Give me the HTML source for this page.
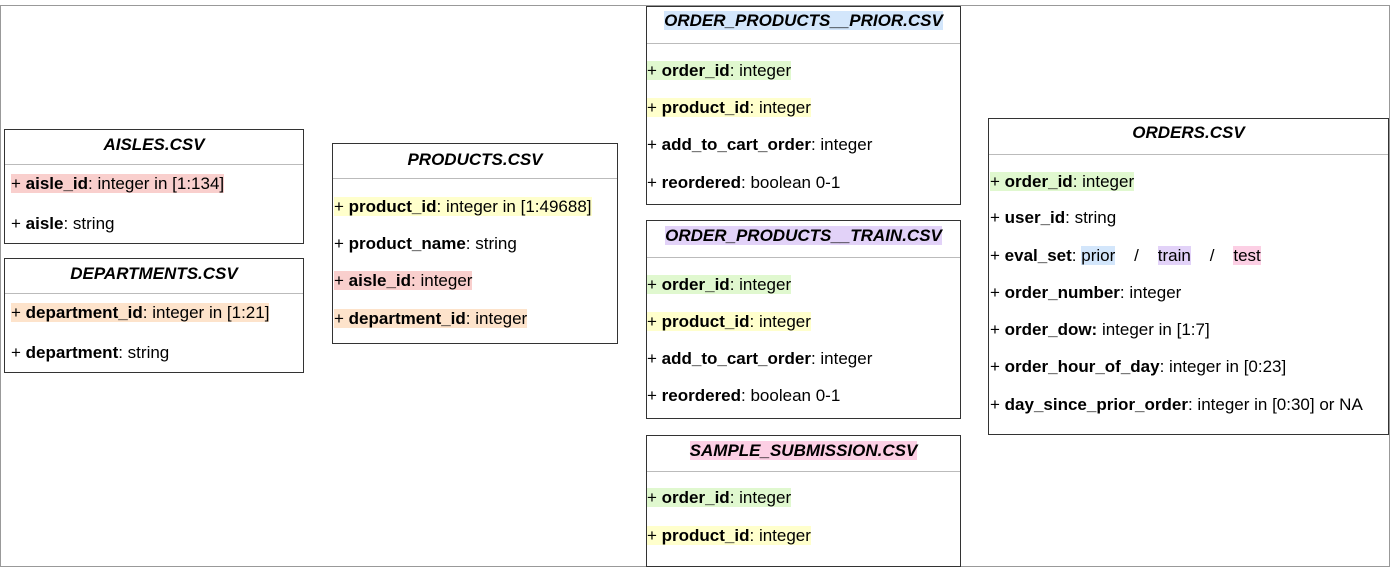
<!DOCTYPE html>
<html><head><meta charset="utf-8"><style>
body{margin:0;width:1391px;height:567px;background:#fff;position:relative;overflow:hidden;font-family:"Liberation Sans",Arial,sans-serif;font-size:17px;color:#000}
.frame{position:absolute;left:0;top:5px;width:1388px;height:560px;border:1px solid #999;border-right:1px solid #999}
.box{position:absolute;border:1.5px solid #333;background:#fff;box-sizing:border-box}
.t{position:absolute;left:0;right:0;text-align:center;font-weight:bold;font-style:italic;white-space:nowrap}
.ln{position:absolute;left:0;right:0;height:0;border-top:1.5px solid #bbb}
.r{position:absolute;white-space:nowrap;line-height:20px}
b{font-weight:bold}
.red{background:#f9cfcd}.org{background:#fde3cb}.yel{background:#ffffcc}.grn{background:#e0f8cf}.blu{background:#d3e6fb}.pur{background:#e2d2f8}.pnk{background:#fccfe4}
</style></head><body>
<div class="frame"></div>

<div class="box" style="left:4px;top:129px;width:300px;height:115px">
<div class="t" style="top:5px">AISLES.CSV</div><div class="ln" style="top:34px"></div>
<div class="r" style="left:6px;top:44px"><span class="red">+ <b>aisle_id</b>: integer in [1:134]</span></div>
<div class="r" style="left:6px;top:84px">+ <b>aisle</b>: string</div>
</div>

<div class="box" style="left:4px;top:258px;width:300px;height:115px">
<div class="t" style="top:5px">DEPARTMENTS.CSV</div><div class="ln" style="top:34px"></div>
<div class="r" style="left:6px;top:44px"><span class="org">+ <b>department_id</b>: integer in [1:21]</span></div>
<div class="r" style="left:6px;top:84px">+ <b>department</b>: string</div>
</div>

<div class="box" style="left:332px;top:143px;width:286px;height:201px">
<div class="t" style="top:6px">PRODUCTS.CSV</div><div class="ln" style="top:34px"></div>
<div class="r" style="left:1px;top:53px"><span class="yel">+ <b>product_id</b>: integer in [1:49688]</span></div>
<div class="r" style="left:1px;top:90px">+ <b>product_name</b>: string</div>
<div class="r" style="left:1px;top:127px"><span class="red">+ <b>aisle_id</b>: integer</span></div>
<div class="r" style="left:1px;top:165px"><span class="org">+ <b>department_id</b>: integer</span></div>
</div>

<div class="box" style="left:646px;top:6px;width:315px;height:199px">
<div class="t" style="top:4px"><span class="blu">ORDER_PRODUCTS__PRIOR.CSV</span></div><div class="ln" style="top:36px"></div>
<div class="r" style="left:0;top:54px"><span class="grn">+ <b>order_id</b>: integer</span></div>
<div class="r" style="left:0;top:91px"><span class="yel">+ <b>product_id</b>: integer</span></div>
<div class="r" style="left:0;top:128px">+ <b>add_to_cart_order</b>: integer</div>
<div class="r" style="left:0;top:166px">+ <b>reordered</b>: boolean 0-1</div>
</div>

<div class="box" style="left:646px;top:220px;width:315px;height:199px">
<div class="t" style="top:5px"><span class="pur">ORDER_PRODUCTS__TRAIN.CSV</span></div><div class="ln" style="top:36px"></div>
<div class="r" style="left:0;top:54px"><span class="grn">+ <b>order_id</b>: integer</span></div>
<div class="r" style="left:0;top:91px"><span class="yel">+ <b>product_id</b>: integer</span></div>
<div class="r" style="left:0;top:128px">+ <b>add_to_cart_order</b>: integer</div>
<div class="r" style="left:0;top:165px">+ <b>reordered</b>: boolean 0-1</div>
</div>

<div class="box" style="left:646px;top:435px;width:315px;height:132px">
<div class="t" style="top:5px"><span class="pnk">SAMPLE_SUBMISSION.CSV</span></div><div class="ln" style="top:35px"></div>
<div class="r" style="left:0;top:52px"><span class="grn">+ <b>order_id</b>: integer</span></div>
<div class="r" style="left:0;top:90px"><span class="yel">+ <b>product_id</b>: integer</span></div>
</div>

<div class="box" style="left:988px;top:118px;width:401px;height:317px">
<div class="t" style="top:4px">ORDERS.CSV</div><div class="ln" style="top:35px"></div>
<div class="r" style="left:1px;top:53px"><span class="grn">+ <b>order_id</b>: integer</span></div>
<div class="r" style="left:1px;top:89px">+ <b>user_id</b>: string</div>
<div class="r" style="left:1px;top:127px">+ <b>eval_set</b>: <span class="blu">prior</span>&nbsp;&nbsp;&nbsp;&nbsp;/&nbsp;&nbsp;&nbsp;&nbsp;<span class="pur">train</span>&nbsp;&nbsp;&nbsp;&nbsp;/&nbsp;&nbsp;&nbsp;&nbsp;<span class="pnk">test</span></div>
<div class="r" style="left:1px;top:164px">+ <b>order_number</b>: integer</div>
<div class="r" style="left:1px;top:201px">+ <b>order_dow:</b> integer in [1:7]</div>
<div class="r" style="left:1px;top:238px">+ <b>order_hour_of_day</b>: integer in [0:23]</div>
<div class="r" style="left:1px;top:276px">+ <b>day_since_prior_order</b>: integer in [0:30] or NA</div>
</div>
</body></html>
